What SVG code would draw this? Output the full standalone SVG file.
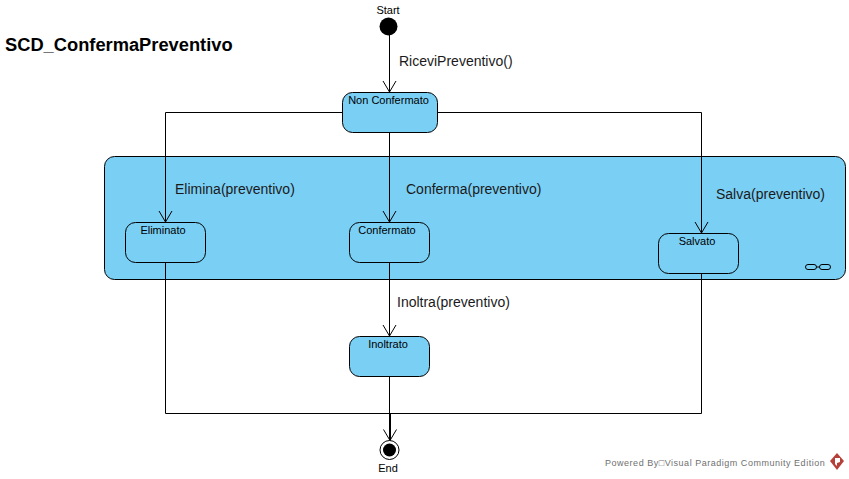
<svg xmlns="http://www.w3.org/2000/svg" width="849" height="479" viewBox="0 0 849 479">
<style>
text{font-family:"Liberation Sans",Arial,sans-serif;fill:#000}
.st{fill:#7acff5;stroke:#000;stroke-width:1}
.n{font-size:11px;text-anchor:middle}
.l{font-size:14px;fill:#1a1a1a}
.c{fill:none;stroke:#000;stroke-width:1}
</style>
<defs>
<marker id="arr" markerUnits="userSpaceOnUse" markerWidth="16" markerHeight="16" refX="12.500" refY="8" orient="auto"><path d="M1.500 1.500L12.500 8L1.500 14.500" fill="none" stroke="#000" stroke-width="1"/></marker>
</defs>
<rect width="849" height="479" fill="#fff"/>
<text x="5" y="50.500" font-size="18.300" font-weight="bold">SCD_ConfermaPreventivo</text>
<g id="composite"><rect class="st" x="104.500" y="156.500" width="741" height="123" rx="10" ry="10"/>
<g fill="none" stroke="#000" stroke-width="1"><rect x="805.500" y="264.500" width="11" height="5" rx="2.500"/><rect x="819.500" y="264.500" width="11" height="5" rx="2.500"/><path d="M816.500 267H819.500"/></g></g>
<g id="connectors">
<path class="c" marker-end="url(#arr)" d="M389.500 35V92"/>
<path class="c" marker-end="url(#arr)" d="M342 112.500H165.500V222"/>
<path class="c" marker-end="url(#arr)" d="M389.500 132V222"/>
<path class="c" marker-end="url(#arr)" d="M438 112.500H701.500V233"/>
<path class="c" marker-end="url(#arr)" d="M389.500 263V336"/>
<path class="c" d="M389.500 376V413"/>
<path class="c" marker-end="url(#arr)" d="M390 413V440.500" stroke-width="2" style="stroke-width:2"/>
<path class="c" d="M165.500 263V413.500H389"/>
<path class="c" d="M701.500 274V413.500H390"/>
</g>
<g id="labels">
<text class="l" x="399" y="66">RiceviPreventivo()</text>
<text class="l" x="175" y="194">Elimina(preventivo)</text>
<text class="l" x="406" y="194">Conferma(preventivo)</text>
<text class="l" x="716" y="199">Salva(preventivo)</text>
<text class="l" x="397" y="307">Inoltra(preventivo)</text>
</g>
<g id="start"><circle cx="388.500" cy="26.500" r="9" fill="#000"/><text class="n" x="388" y="14">Start</text></g>
<g id="nonconfermato"><rect class="st" x="342.500" y="92.500" width="95" height="40" rx="10" ry="10"/><text class="n" x="388.500" y="104">Non Confermato</text></g>
<g id="eliminato"><rect class="st" x="125.500" y="222.500" width="80" height="40" rx="10" ry="10"/><text class="n" x="163" y="234">Eliminato</text></g>
<g id="confermato"><rect class="st" x="349.500" y="222.500" width="80" height="40" rx="10" ry="10"/><text class="n" x="387" y="234">Confermato</text></g>
<g id="salvato"><rect class="st" x="658.500" y="233.500" width="80" height="40" rx="10" ry="10"/><text class="n" x="697" y="245">Salvato</text></g>
<g id="inoltrato"><rect class="st" x="349.500" y="336.500" width="80" height="40" rx="10" ry="10"/><text class="n" x="388" y="348">Inoltrato</text></g>
<g id="end"><circle cx="389.500" cy="450" r="9.500" fill="#fff" stroke="#000"/><circle cx="389.500" cy="450" r="6.500" fill="#000"/><text class="n" x="388" y="472">End</text></g>
<g id="watermark"><text x="605" y="466" font-size="9" letter-spacing="0.520" style="fill:#707070">Powered By□Visual Paradigm Community Edition</text>
<path d="M837 453L844 461L837 470L830 461Z" fill="#b5403a"/><path d="M835 458H840V462L837 463V466L835 464Z" fill="#fff"/></g>
</svg>
